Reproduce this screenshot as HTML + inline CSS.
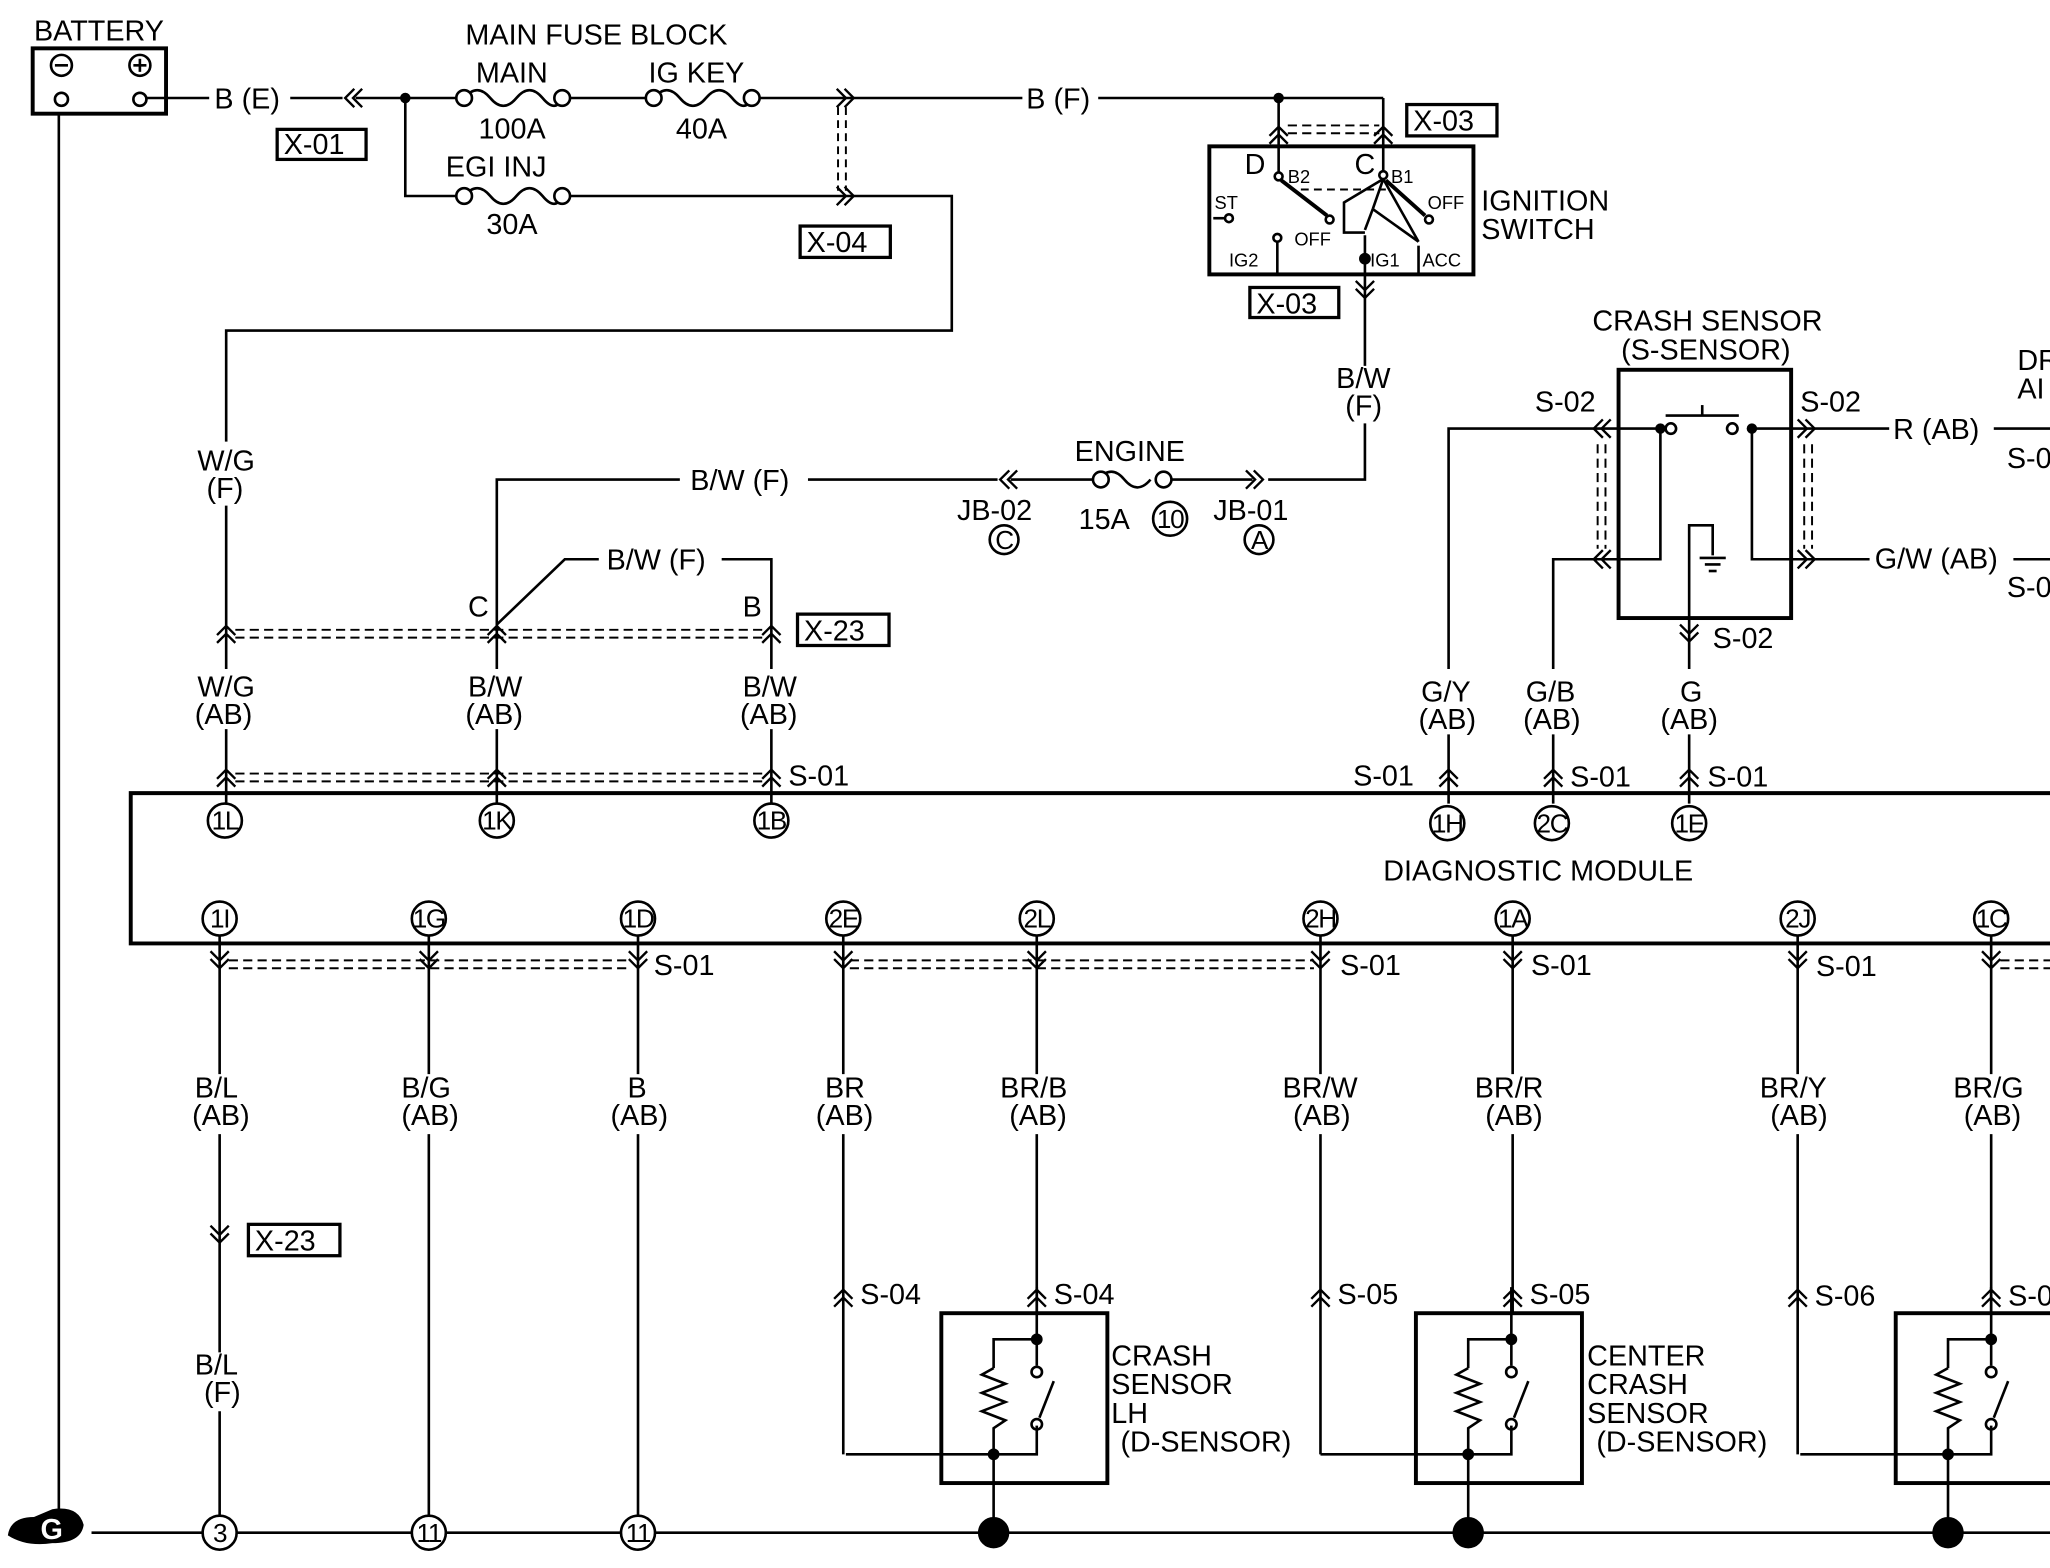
<!DOCTYPE html>
<html><head><meta charset="utf-8"><style>
html,body{margin:0;padding:0;background:#fff;}
svg{display:block}
text{font-family:"Liberation Sans","DejaVu Sans",sans-serif;font-size:22px;fill:#000;}
.s{font-size:20px;letter-spacing:-1px;}
.k{font-size:14px;}
</style></head><body>
<svg width="2050" height="1568" viewBox="0 0 1568 1200" preserveAspectRatio="none" xmlns="http://www.w3.org/2000/svg">
<defs>
<g id="cu" fill="none" stroke="#000" stroke-width="1.8"><polyline points="-7,4 0,-3 7,4"/><polyline points="-7,10 0,3 7,10"/></g>
<g id="cd" fill="none" stroke="#000" stroke-width="1.8"><polyline points="-7,-4 0,3 7,-4"/><polyline points="-7,-10 0,-3 7,-10"/></g>
<g id="cl" fill="none" stroke="#000" stroke-width="1.8"><polyline points="4,-7 -3,0 4,7"/><polyline points="10,-7 3,0 10,7"/></g>
<g id="cr" fill="none" stroke="#000" stroke-width="1.8"><polyline points="-4,-7 3,0 -4,7"/><polyline points="-10,-7 -3,0 -10,7"/></g>
<g id="sens" fill="none" stroke="#000" stroke-width="2">
<rect x="0" y="0" width="127" height="130" stroke-width="3"/>
<polyline points="73,-20 73,20 40,20 40,42"/>
<polyline points="40,42 31,47 49,54 31,61 49,68 31,75 49,82 40,88 40,108 73,108 73,86"/>
<line x1="73" y1="20" x2="73" y2="40"/>
<circle cx="73" cy="45" r="4"/><circle cx="73" cy="85" r="4"/>
<line x1="75" y1="80" x2="86" y2="52"/>
<line x1="40" y1="108" x2="40" y2="168"/>
<line x1="-73" y1="108" x2="40" y2="108"/>
<circle cx="73" cy="20" r="3.5" fill="#000"/><circle cx="40" cy="108" r="3.5" fill="#000"/>
<circle cx="40" cy="168" r="11" fill="#000"/>
</g>
</defs>
<g fill="none" stroke="#000" stroke-width="2">
<rect x="25" y="37" width="102" height="50" stroke-width="3"/>
<circle cx="47" cy="50" r="8"/><line x1="42" y1="50" x2="52" y2="50"/>
<circle cx="107" cy="50" r="8"/><line x1="102" y1="50" x2="112" y2="50"/><line x1="107" y1="45" x2="107" y2="55"/>
<circle cx="47" cy="76" r="5"/><circle cx="107" cy="76" r="5"/>
<line x1="45" y1="87" x2="45" y2="1160"/>
<line x1="112" y1="75" x2="160" y2="75"/>
<line x1="222" y1="75" x2="262" y2="75"/><line x1="272" y1="75" x2="355" y2="75"/>
<path d="M355,75 q10,-12 20,0 t20,0 t20,0 t15,0"/>
<circle cx="355" cy="75" r="6" fill="#fff"/><circle cx="430" cy="75" r="6" fill="#fff"/>
<line x1="436" y1="75" x2="500" y2="75"/>
<path d="M500,75 q10,-12 20,0 t20,0 t20,0 t15,0"/>
<circle cx="500" cy="75" r="6" fill="#fff"/><circle cx="575" cy="75" r="6" fill="#fff"/>
<line x1="581" y1="75" x2="782" y2="75"/>
<line x1="840" y1="75" x2="1058" y2="75"/><line x1="1058" y1="75" x2="1058" y2="112"/>
<line x1="978" y1="75" x2="978" y2="112"/>
<rect x="212" y="99" width="68" height="23" stroke-width="2.5"/>
<polyline points="310,75 310,150 349,150"/>
<path d="M355,150 q10,-12 20,0 t20,0 t20,0 t15,0"/>
<circle cx="355" cy="150" r="6" fill="#fff"/><circle cx="430" cy="150" r="6" fill="#fff"/>
<polyline points="436,150 728,150 728,253 173,253 173,338"/>
<line x1="641" y1="82" x2="641" y2="146" stroke-dasharray="6,4" stroke-width="1.5"/>
<line x1="647" y1="82" x2="647" y2="146" stroke-dasharray="6,4" stroke-width="1.5"/>
<rect x="612" y="173" width="69" height="24" stroke-width="2.5"/>
<rect x="925" y="112" width="202" height="98" stroke-width="3"/>
<line x1="985" y1="96" x2="1055" y2="96" stroke-dasharray="7,4" stroke-width="1.5"/>
<line x1="985" y1="102" x2="1055" y2="102" stroke-dasharray="7,4" stroke-width="1.5"/>
<rect x="1076" y="80" width="69" height="24" stroke-width="2.5"/>
<line x1="978" y1="112" x2="978" y2="132"/><circle cx="978" cy="135" r="3"/>
<line x1="1058" y1="112" x2="1058" y2="132"/><circle cx="1058" cy="134" r="3"/>
<line x1="980" y1="138" x2="1015" y2="165" stroke-width="3"/><circle cx="1017" cy="168" r="3"/>
<line x1="995" y1="145" x2="1060" y2="145" stroke-dasharray="6,4" stroke-width="1.5"/>
<polyline points="1058,137 1028,155 1028,178 1044,178"/>
<line x1="1058" y1="137" x2="1050" y2="160"/><line x1="1050" y1="160" x2="1044" y2="176"/>
<line x1="1058" y1="137" x2="1085" y2="185"/><line x1="1050" y1="160" x2="1085" y2="185"/>
<line x1="1060" y1="138" x2="1090" y2="165" stroke-width="3"/><circle cx="1093" cy="168" r="3"/>
<polyline points="928,167 937,167"/><circle cx="940" cy="167" r="3"/>
<circle cx="977" cy="182" r="3"/><line x1="977" y1="185" x2="977" y2="210"/>
<line x1="1085" y1="188" x2="1085" y2="210"/>
<circle cx="1044" cy="198" r="3.5" fill="#000"/>
<line x1="1044" y1="180" x2="1044" y2="280"/>
<rect x="956" y="220" width="68" height="23" stroke-width="2.5"/>
<polyline points="1044,324 1044,367 970,367"/>
<line x1="885" y1="367" x2="958" y2="367"/>
<path d="M840,367 q10,-12 20,0 t20,0"/>
<circle cx="842" cy="367" r="6" fill="#fff"/><circle cx="890" cy="367" r="6" fill="#fff"/>
<line x1="773" y1="367" x2="836" y2="367"/><line x1="618" y1="367" x2="763" y2="367"/>
<circle cx="768" cy="413" r="11"/><circle cx="895" cy="397" r="13"/><circle cx="963" cy="413" r="11"/>
<polyline points="520,367 380,367 380,512"/>
<polyline points="380,478 432,428 458,428"/>
<polyline points="552,428 590,428 590,512"/>
<line x1="173" y1="387" x2="173" y2="512"/>
<line x1="180" y1="482" x2="585" y2="482" stroke-dasharray="7,4" stroke-width="1.5"/>
<line x1="180" y1="488" x2="585" y2="488" stroke-dasharray="7,4" stroke-width="1.5"/>
<rect x="610" y="470" width="70" height="24" stroke-width="2.5"/>
<line x1="180" y1="592" x2="585" y2="592" stroke-dasharray="7,4" stroke-width="1.5"/>
<line x1="180" y1="598" x2="585" y2="598" stroke-dasharray="7,4" stroke-width="1.5"/>
<rect x="1238" y="283" width="132" height="190" stroke-width="3"/>
<polyline points="1108,512 1108,328 1270,328"/>
<polyline points="1188,512 1188,428 1270,428 1270,328"/>
<circle cx="1278" cy="328" r="4"/><circle cx="1325" cy="328" r="4"/>
<line x1="1274" y1="318" x2="1330" y2="318"/><line x1="1302" y1="318" x2="1302" y2="310"/>
<polyline points="1340,328 1445,328"/><line x1="1525" y1="328" x2="1568" y2="328"/>
<polyline points="1340,328 1340,428 1430,428"/><line x1="1540" y1="428" x2="1568" y2="428"/>
<polyline points="1292,512 1292,402 1310,402 1310,425"/>
<line x1="1300" y1="427" x2="1320" y2="427"/><line x1="1304" y1="432" x2="1316" y2="432"/><line x1="1307" y1="437" x2="1313" y2="437"/>
<line x1="1222" y1="340" x2="1222" y2="420" stroke-dasharray="7,4" stroke-width="1.5"/>
<line x1="1228" y1="340" x2="1228" y2="420" stroke-dasharray="7,4" stroke-width="1.5"/>
<line x1="1380" y1="340" x2="1380" y2="420" stroke-dasharray="7,4" stroke-width="1.5"/>
<line x1="1386" y1="340" x2="1386" y2="420" stroke-dasharray="7,4" stroke-width="1.5"/>
<line x1="1108" y1="562" x2="1108" y2="615"/><line x1="1188" y1="562" x2="1188" y2="615"/><line x1="1292" y1="562" x2="1292" y2="615"/>
<line x1="173" y1="558" x2="173" y2="615"/><line x1="380" y1="558" x2="380" y2="615"/><line x1="590" y1="558" x2="590" y2="615"/>
<path d="M1568,607 L100,607 L100,722 L1568,722" stroke-width="3"/>
<line x1="175" y1="735" x2="483" y2="735" stroke-dasharray="7,4" stroke-width="1.5"/>
<line x1="175" y1="741" x2="483" y2="741" stroke-dasharray="7,4" stroke-width="1.5"/>
<line x1="650" y1="735" x2="1005" y2="735" stroke-dasharray="7,4" stroke-width="1.5"/>
<line x1="650" y1="741" x2="1005" y2="741" stroke-dasharray="7,4" stroke-width="1.5"/>
<line x1="1530" y1="735" x2="1568" y2="735" stroke-dasharray="7,4" stroke-width="1.5"/>
<line x1="1530" y1="741" x2="1568" y2="741" stroke-dasharray="7,4" stroke-width="1.5"/>
<line x1="168" y1="716" x2="168" y2="822"/><line x1="168" y1="868" x2="168" y2="1035"/><line x1="168" y1="1080" x2="168" y2="1160"/>
<line x1="328" y1="716" x2="328" y2="822"/><line x1="328" y1="868" x2="328" y2="1160"/>
<line x1="488" y1="716" x2="488" y2="822"/><line x1="488" y1="868" x2="488" y2="1160"/>
<line x1="645" y1="716" x2="645" y2="822"/><line x1="645" y1="868" x2="645" y2="1113"/>
<line x1="793" y1="716" x2="793" y2="822"/><line x1="793" y1="868" x2="793" y2="1005"/>
<line x1="1010" y1="716" x2="1010" y2="822"/><line x1="1010" y1="868" x2="1010" y2="1113"/>
<line x1="1157" y1="716" x2="1157" y2="822"/><line x1="1157" y1="868" x2="1157" y2="1005"/>
<line x1="1375" y1="716" x2="1375" y2="822"/><line x1="1375" y1="868" x2="1375" y2="1113"/>
<line x1="1523" y1="716" x2="1523" y2="822"/><line x1="1523" y1="868" x2="1523" y2="1005"/>
<rect x="190" y="937" width="70" height="24" stroke-width="2.5"/>
<line x1="70" y1="1173" x2="1568" y2="1173"/>
</g>
<use href="#sens" x="720" y="1005"/>
<use href="#sens" x="1083" y="1005"/>
<use href="#sens" x="1450" y="1005"/>
<path d="M6,1175 q2,-14 20,-14 l14,-6 q20,-3 24,12 q-2,14 -24,14 q-20,3 -34,-6z" fill="#000"/>
<text x="31" y="1178" style="fill:#fff;font-weight:bold" font-size="20">G</text>
<use href="#cl" x="267" y="75"/><use href="#cr" x="650" y="75"/><use href="#cr" x="650" y="150"/>
<use href="#cu" x="978" y="100"/><use href="#cu" x="1058" y="100"/><use href="#cd" x="1044" y="225"/>
<use href="#cl" x="768" y="367"/><use href="#cr" x="963" y="367"/>
<use href="#cu" x="173" y="482"/><use href="#cu" x="380" y="482"/><use href="#cu" x="590" y="482"/>
<use href="#cu" x="173" y="592"/><use href="#cu" x="380" y="592"/><use href="#cu" x="590" y="592"/>
<use href="#cl" x="1222" y="328"/><use href="#cl" x="1222" y="428"/><use href="#cr" x="1385" y="328"/><use href="#cr" x="1385" y="428"/>
<use href="#cd" x="1292" y="488"/>
<use href="#cu" x="1108" y="592"/><use href="#cu" x="1188" y="592"/><use href="#cu" x="1292" y="592"/>
<use href="#cd" x="168" y="738"/><use href="#cd" x="328" y="738"/><use href="#cd" x="488" y="738"/><use href="#cd" x="645" y="738"/><use href="#cd" x="793" y="738"/><use href="#cd" x="1010" y="738"/><use href="#cd" x="1157" y="738"/><use href="#cd" x="1375" y="738"/><use href="#cd" x="1523" y="738"/>
<use href="#cd" x="168" y="948"/>
<use href="#cu" x="645" y="990"/><use href="#cu" x="793" y="990"/><use href="#cu" x="1010" y="990"/><use href="#cu" x="1157" y="990"/><use href="#cu" x="1375" y="990"/><use href="#cu" x="1523" y="990"/>
<circle cx="310" cy="75" r="4" fill="#000"/><circle cx="978" cy="75" r="4" fill="#000"/>
<circle cx="1270" cy="328" r="4" fill="#000"/><circle cx="1340" cy="328" r="4" fill="#000"/>
<g fill="#fff" stroke="#000" stroke-width="2">
<circle cx="172" cy="628" r="13"/><circle cx="380" cy="628" r="13"/><circle cx="590" cy="628" r="13"/>
<circle cx="1107" cy="630" r="13"/><circle cx="1187" cy="630" r="13"/><circle cx="1292" cy="630" r="13"/>
<circle cx="168" cy="703" r="13"/><circle cx="328" cy="703" r="13"/><circle cx="488" cy="703" r="13"/><circle cx="645" cy="703" r="13"/><circle cx="793" cy="703" r="13"/><circle cx="1010" cy="703" r="13"/><circle cx="1157" cy="703" r="13"/><circle cx="1375" cy="703" r="13"/><circle cx="1523" cy="703" r="13"/>
<circle cx="168" cy="1173" r="13"/><circle cx="328" cy="1173" r="13"/><circle cx="488" cy="1173" r="13"/>
</g>
<g text-anchor="middle">
<text x="172" y="635" class="s">1L</text><text x="380" y="635" class="s">1K</text><text x="590" y="635" class="s">1B</text>
<text x="1107" y="637" class="s">1H</text><text x="1187" y="637" class="s">2C</text><text x="1292" y="637" class="s">1E</text>
<text x="168" y="710" class="s">1I</text><text x="328" y="710" class="s">1G</text><text x="488" y="710" class="s">1D</text><text x="645" y="710" class="s">2E</text><text x="793" y="710" class="s">2L</text><text x="1010" y="710" class="s">2H</text><text x="1157" y="710" class="s">1A</text><text x="1375" y="710" class="s">2J</text><text x="1523" y="710" class="s">1C</text>
<text x="168" y="1180" class="s">3</text><text x="328" y="1180" class="s">11</text><text x="488" y="1180" class="s">11</text>
<text x="768" y="420" class="s">C</text><text x="895" y="404" class="s">10</text><text x="963" y="420" class="s">A</text>
</g>
<text x="26" y="31">BATTERY</text>
<text x="356" y="34">MAIN FUSE BLOCK</text>
<text x="364" y="63">MAIN</text><text x="496" y="63">IG KEY</text>
<text x="164" y="83">B (E)</text><text x="366" y="106">100A</text><text x="517" y="106">40A</text>
<text x="785" y="83">B (F)</text>
<text x="217" y="118">X-01</text>
<text x="341" y="135">EGI INJ</text><text x="372" y="179">30A</text>
<text x="617" y="193">X-04</text>
<text x="1081" y="100">X-03</text><text x="961" y="240">X-03</text>
<text x="952" y="133" font-size="18">D</text><text x="1036" y="133" font-size="18">C</text>
<text x="985" y="140" class="k">B2</text><text x="1064" y="140" class="k">B1</text>
<text x="929" y="160" class="k">ST</text><text x="1092" y="160" class="k">OFF</text>
<text x="990" y="188" class="k">OFF</text><text x="940" y="204" class="k">IG2</text>
<text x="1048" y="204" class="k">IG1</text><text x="1088" y="204" class="k">ACC</text>
<text x="1133" y="161">IGNITION</text><text x="1133" y="183">SWITCH</text>
<text x="1218" y="253">CRASH SENSOR</text><text x="1240" y="275">(S-SENSOR)</text>
<text x="1543" y="283">DR</text><text x="1543" y="305">AI</text>
<text x="1174" y="315">S-02</text><text x="1377" y="315">S-02</text>
<text x="1448" y="336">R (AB)</text><text x="1535" y="358">S-0</text>
<text x="1434" y="435">G/W (AB)</text><text x="1535" y="457">S-0</text>
<text x="1310" y="496">S-02</text>
<text x="1022" y="297">B/W</text><text x="1029" y="318">(F)</text>
<text x="822" y="353">ENGINE</text><text x="825" y="405">15A</text>
<text x="732" y="398">JB-02</text><text x="928" y="398">JB-01</text>
<text x="528" y="375">B/W (F)</text><text x="464" y="436">B/W (F)</text>
<text x="151" y="360">W/G</text><text x="158" y="381">(F)</text>
<text x="358" y="472">C</text><text x="568" y="472">B</text>
<text x="615" y="490">X-23</text>
<text x="151" y="533">W/G</text><text x="149" y="554">(AB)</text>
<text x="358" y="533">B/W</text><text x="356" y="554">(AB)</text>
<text x="568" y="533">B/W</text><text x="566" y="554">(AB)</text>
<text x="1087" y="537">G/Y</text><text x="1085" y="558">(AB)</text>
<text x="1167" y="537">G/B</text><text x="1165" y="558">(AB)</text>
<text x="1285" y="537">G</text><text x="1270" y="558">(AB)</text>
<text x="603" y="601">S-01</text><text x="1035" y="601">S-01</text><text x="1201" y="602">S-01</text><text x="1306" y="602">S-01</text>
<text x="1058" y="674">DIAGNOSTIC MODULE</text>
<text x="500" y="746">S-01</text><text x="1025" y="746">S-01</text><text x="1171" y="746">S-01</text><text x="1389" y="747">S-01</text>
<text x="149" y="840">B/L</text><text x="147" y="861">(AB)</text>
<text x="307" y="840">B/G</text><text x="307" y="861">(AB)</text>
<text x="480" y="840">B</text><text x="467" y="861">(AB)</text>
<text x="631" y="840">BR</text><text x="624" y="861">(AB)</text>
<text x="765" y="840">BR/B</text><text x="772" y="861">(AB)</text>
<text x="981" y="840">BR/W</text><text x="989" y="861">(AB)</text>
<text x="1128" y="840">BR/R</text><text x="1136" y="861">(AB)</text>
<text x="1346" y="840">BR/Y</text><text x="1354" y="861">(AB)</text>
<text x="1494" y="840">BR/G</text><text x="1502" y="861">(AB)</text>
<text x="195" y="957">X-23</text>
<text x="149" y="1052">B/L</text><text x="156" y="1073">(F)</text>
<text x="658" y="998">S-04</text><text x="806" y="998">S-04</text>
<text x="1023" y="998">S-05</text><text x="1170" y="998">S-05</text>
<text x="1388" y="999">S-06</text><text x="1536" y="999">S-0</text>
<text x="850" y="1045">CRASH</text><text x="850" y="1067">SENSOR</text><text x="850" y="1089">LH</text><text x="857" y="1111">(D-SENSOR)</text>
<text x="1214" y="1045">CENTER</text><text x="1214" y="1067">CRASH</text><text x="1214" y="1089">SENSOR</text><text x="1221" y="1111">(D-SENSOR)</text>
</svg>
</body></html>
